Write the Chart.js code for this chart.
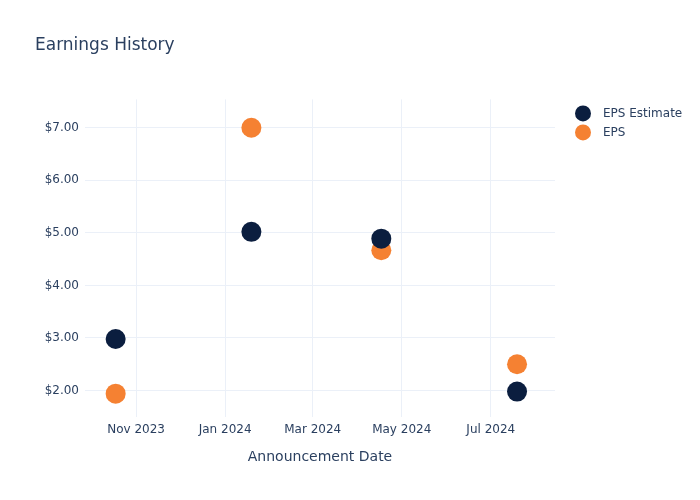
<!DOCTYPE html>
<html>
<head>
<meta charset="utf-8">
<script src="https://cdn.jsdelivr.net/npm/chart.js@4"></script>
<style>
  body { margin: 0; background: #fff; }
  #wrap { width: 700px; height: 500px; }
</style>
</head>
<body>
<div id="wrap"><canvas id="earnings-chart"></canvas></div>
<script>
// announcement dates and eps values
const announceDates = ['2023-10-18', '2024-01-19', '2024-04-17', '2024-07-19'];
const epsEstimate = [2.98, 5.02, 4.89, 1.98];
const epsActual = [1.94, 7.00, 4.67, 2.50];
const monthTicks = ['2023-11-01', '2024-01-01', '2024-03-01', '2024-05-01', '2024-07-01'];
const dollarTicks = [2, 3, 4, 5, 6, 7];

const monthNames = ['Jan', 'Feb', 'Mar', 'Apr', 'May', 'Jun', 'Jul', 'Aug', 'Sep', 'Oct', 'Nov', 'Dec'];
const textColor = '#2a3f5f';
const gridColor = '#ebf0f8';
const fontFamily = '"DejaVu Sans", Verdana, sans-serif';

let toTime = (d) => Date.parse(d + 'T00:00:00Z');

let makePoints = (values) => announceDates.map((d, i) => ({ x: toTime(d), y: values[i] }));

let monthLabel = (t) => {
  const d = new Date(t);
  return `${monthNames[d.getUTCMonth()]} ${d.getUTCFullYear()}`;
}

// plotly style legend next to the plot area, built from the datasets
const sideLegend = {
  id: 'sideLegend',
  afterDraw: (chart) => {
    const c = chart.ctx;
    const area = chart.chartArea;
    c.save();
    c.font = `12px ${fontFamily}`;
    c.textBaseline = 'middle';
    chart.data.datasets.forEach((ds, i) => {
      const y = area.top + 14 + i * 19;
      c.fillStyle = ds.backgroundColor;
      c.beginPath();
      c.arc(area.right + 28, y, 8, 0, Math.PI * 2);
      c.fill();
      c.fillStyle = textColor;
      c.fillText(ds.label, area.right + 48, y);
    });
    c.restore();
  }
}

Chart.defaults.font.family = fontFamily;
Chart.defaults.color = textColor;

const ctx = document.querySelector('#earnings-chart').getContext('2d');

const earningsChart = new Chart(ctx, {
  type: 'scatter',
  data: {
    datasets: [
      {
        label: 'EPS Estimate',
        data: makePoints(epsEstimate),
        backgroundColor: '#0b1e3f',
        borderColor: '#0b1e3f',
        pointRadius: 10,
        pointHoverRadius: 10,
        borderWidth: 0
      },
      {
        label: 'EPS',
        data: makePoints(epsActual),
        backgroundColor: '#f58132',
        borderColor: '#f58132',
        pointRadius: 10,
        pointHoverRadius: 10,
        borderWidth: 0
      }
    ]
  },
  plugins: [sideLegend],
  options: {
    responsive: true,
    maintainAspectRatio: false,
    animation: false,
    layout: { padding: { left: 35, right: 145, top: 0, bottom: 30 } },
    plugins: {
      title: {
        display: true,
        text: 'Earnings History',
        align: 'start',
        color: textColor,
        font: { size: 17, weight: 'normal' },
        padding: { top: 35, bottom: 44 }
      },
      legend: { display: false },
      tooltip: { enabled: false }
    },
    scales: {
      x: {
        type: 'linear',
        min: toTime('2023-09-27'),
        max: toTime('2024-08-14'),
        afterBuildTicks: (scale) => {
          scale.ticks = monthTicks.map(d => ({ value: toTime(d) }));
        },
        ticks: {
          callback: (v) => monthLabel(v),
          color: textColor,
          font: { size: 12 },
          maxRotation: 0,
          padding: 6
        },
        grid: { color: gridColor, drawTicks: false },
        border: { display: false },
        title: {
          display: true,
          text: 'Announcement Date',
          color: textColor,
          font: { size: 14 },
          padding: { top: 6 }
        }
      },
      y: {
        min: 1.5,
        max: 7.54,
        afterBuildTicks: (scale) => {
          scale.ticks = dollarTicks.map(v => ({ value: v }));
        },
        afterFit: (scale) => { scale.width = 50; },
        ticks: {
          callback: (v) => '$' + v.toFixed(2),
          color: textColor,
          font: { size: 12 },
          padding: 6
        },
        grid: { color: gridColor, drawTicks: false },
        border: { display: false }
      }
    }
  }
});
</script>
</body>
</html>
